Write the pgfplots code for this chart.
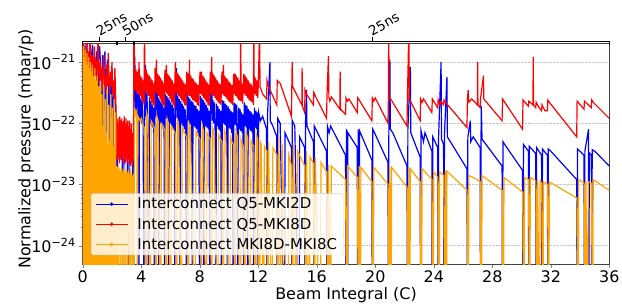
\documentclass[border=0pt]{standalone}
\usepackage{pgfplots}
\pgfplotsset{compat=1.18}
\usepackage{fontspec}
\setmainfont{DejaVu Sans}
\definecolor{mplblue}{RGB}{0,0,255}
\definecolor{mplred}{RGB}{255,0,0}
\definecolor{mplorange}{RGB}{255,165,0}
\begin{document}
\begin{tikzpicture}
\begin{axis}[
  scale only axis, width=526.6bp, height=221bp,
  ymode=log, xmin=0, xmax=36, ymin=5e-25, ymax=2.05e-21,
  xtick={0,4,...,36},
  ytick={1e-24,1e-23,1e-22,1e-21},
  yticklabels={10\textsuperscript{−24},10\textsuperscript{−23},10\textsuperscript{−22},10\textsuperscript{−21}},
  /pgf/number format/assume math mode=true,
  tick label style={font=\fontsize{16}{18}\selectfont},
  label style={font=\fontsize{16}{18}\selectfont},
  tick align=outside, major tick length=3.5bp, minor tick length=2bp,
  xtick pos=bottom, ytick pos=left,
  ymajorgrids, major grid style={densely dotted, gray!45, line width=0.5pt},
  axis line style={black!75, line width=0.6pt},
  xlabel={Beam Integral (C)}, ylabel={Normalized pressure (mbar/p)},
  xlabel style={at={(axis description cs:0.5,-0.14)}, anchor=center},
  ylabel style={at={(axis description cs:-0.1077,0.52)}, anchor=center},
  legend cell align=left,
  legend style={at={(0.0158,0.04)}, anchor=south west, font=\fontsize{15}{18}\selectfont,
    draw=gray!40, fill=white, fill opacity=0.8, text opacity=1, rounded corners=2pt,
    inner xsep=4bp, inner ysep=2bp, row sep=3.2bp, nodes={inner sep=2.2bp}},
  legend image code/.code={\draw[#1, line width=0.9pt] (0bp,0bp) -- (32bp,0bp); \fill[#1] (16bp,0bp) circle (1.1bp); \path (39bp,0bp);},
]
% ---------------- Blue: Interconnect Q5-MKI2D
\addplot[mplblue, line width=1.2pt] coordinates {
(0,1.6e-21)(0.04,1e-26)(0.08,1.9e-21)(0.14,1.1e-21)(0.18,1e-26)(0.22,1.7e-21)(0.3,2.2e-21)(0.34,1e-26)(0.38,1.4e-21)(0.46,8e-22)(0.5,1.6e-21)(0.55,1e-26)(0.6,1.3e-21)(0.68,1.9e-21)(0.77,1e-26)(0.8,1.2e-21)(0.88,6e-22)(0.95,1.5e-21)(1.02,1e-26)(1.08,1.1e-21)(1.16,1.8e-21)(1.24,7e-22)(1.3,1e-26)(1.36,1.3e-21)(1.44,8e-22)(1.52,1.5e-21)(1.58,1e-26)(1.62,7e-22)(1.7,1.1e-21)(1.76,4e-22)(1.82,1e-26)(1.86,6e-22)(1.94,3e-22)(2.0,8e-22)(2.06,1e-26)(2.1,2.5e-22)(2.18,4e-22)(2.26,1.5e-22)(2.32,1e-26)(2.38,4.5e-23)(2.46,3e-23)(2.54,5e-23)(2.62,2.6e-23)(2.7,4e-23)(2.77,1e-26)(2.82,3.5e-23)(2.9,2.6e-23)(2.98,4.5e-23)(3.06,2.3e-23)(3.12,1e-26)(3.18,4e-23)(3.26,2.8e-23)(3.34,3.5e-23)(3.42,2.4e-23)(3.48,1e-26)
(3.52,6e-22)(3.56,1.2e-21)(3.6,3e-22)(3.65,1.3e-22)(3.7,3.5e-22)(3.75,1.2e-22)(3.8,3e-22)(3.84,1e-26)(3.88,2.8e-22)(3.93,1.1e-22)(3.98,2.5e-22)(4.03,1e-22)(4.08,2.3e-22)(4.13,9e-23)(4.2,1e-26)
(4.24,4e-22)(4.3,9e-22)(4.34,1.3e-22)(4.39,3e-22)(4.44,1.2e-22)(4.52,1e-26)(4.56,2.6e-22)(4.61,1e-22)(4.66,2.3e-22)(4.71,9e-23)(4.76,2e-22)(4.81,8.5e-23)(4.86,1.8e-22)(4.9,1e-26)
(4.94,3.5e-22)(4.99,1.3e-22)(5.04,3e-22)(5.08,6e-22)(5.12,1.2e-22)(5.17,2.6e-22)(5.22,1e-26)(5.26,2.4e-22)(5.31,1e-22)(5.36,2.2e-22)(5.41,9e-23)(5.46,2e-22)(5.51,8e-23)(5.56,1.8e-22)(5.6,1e-26)
(5.64,3e-22)(5.69,1.2e-22)(5.74,2.8e-22)(5.79,1.1e-22)(5.84,2.6e-22)(5.88,1e-26)(5.92,2.4e-22)(5.97,1e-22)(6.02,2.2e-22)(6.07,9e-23)(6.12,2e-22)(6.17,8e-23)(6.22,1.8e-22)(6.27,7.5e-23)(6.3,1e-26)
(6.34,3.2e-22)(6.42,8e-22)(6.45,1.2e-22)(6.5,2.8e-22)(6.55,1.1e-22)(6.6,2.5e-22)(6.66,1e-26)(6.7,2.3e-22)(6.75,1e-22)(6.8,2.1e-22)(6.85,9e-23)(6.9,1.9e-22)(6.95,8e-23)(7.0,1.7e-22)(7.05,7e-23)(7.1,1e-26)
(7.14,3e-22)(7.19,1.1e-22)(7.24,2.7e-22)(7.29,1e-22)(7.34,2.5e-22)(7.39,9.5e-23)(7.45,2.3e-22)(7.5,1e-26)(7.54,2.2e-22)(7.59,9e-23)(7.64,2e-22)(7.69,8.5e-23)(7.74,1.9e-22)(7.79,8e-23)(7.84,1.7e-22)(7.89,7e-23)(7.94,1.6e-22)(8.0,1e-26)
(8.04,2.8e-22)(8.09,1.1e-22)(8.14,2.6e-22)(8.19,1e-22)(8.24,2.4e-22)(8.3,1e-26)(8.34,2.2e-22)(8.39,9e-23)(8.44,2e-22)(8.49,8.5e-23)(8.54,1.8e-22)(8.59,8e-23)(8.64,1.6e-22)(8.7,1e-26)
(8.74,2.6e-22)(8.82,7e-22)(8.85,1.1e-22)(8.9,2.4e-22)(8.95,1e-22)(9.0,2.2e-22)(9.05,9.5e-23)(9.1,1e-26)(9.14,2.1e-22)(9.19,9e-23)(9.24,1.9e-22)(9.29,8e-23)(9.34,1.7e-22)(9.39,7.5e-23)(9.44,1.6e-22)(9.5,1e-26)
(9.54,2.4e-22)(9.59,1e-22)(9.64,2.3e-22)(9.69,9.5e-23)(9.74,2.1e-22)(9.79,9e-23)(9.84,2e-22)(9.9,1e-26)(9.94,1.9e-22)(9.99,8.5e-23)(10.04,1.7e-22)(10.09,8e-23)(10.14,1.6e-22)(10.19,7e-23)(10.24,1.5e-22)(10.3,1e-26)
(10.34,2.2e-22)(10.39,9.5e-23)(10.44,2.1e-22)(10.49,9e-23)(10.54,2e-22)(10.62,1e-26)(10.66,1.8e-22)(10.71,8e-23)(10.76,1.7e-22)(10.81,7.5e-23)(10.86,1.5e-22)(10.91,7e-23)(10.96,1.4e-22)(11.0,1e-26)
(11.04,2.2e-22)(11.09,9e-23)(11.14,2e-22)(11.19,8.5e-23)(11.24,1.9e-22)(11.3,1e-26)(11.34,1.7e-22)(11.39,8e-23)(11.44,1.6e-22)(11.49,7.5e-23)(11.54,1.5e-22)(11.59,7e-23)(11.64,1.4e-22)(11.7,1e-26)
(11.74,1.8e-22)(11.79,8.5e-23)(11.84,1.6e-22)(11.89,8e-23)(11.94,1.5e-22)(12.0,1e-26)
(12.03,1.5e-22)(12.15,1.1e-22)(12.3,1.3e-22)(12.57,8e-23)(12.6,1e-26)(12.63,1.3e-22)(12.8,1e-21)(12.82,1.1e-22)(13.0,9e-23)(13.27,6e-23)(13.3,1e-26)(13.33,1.2e-22)(13.5,1e-22)(13.8,1e-26)(13.83,7e-23)(14.27,4e-23)(14.3,1e-26)(14.33,1.1e-22)(14.5,9e-23)(14.8,1e-26)(14.83,6e-23)(15.17,4e-23)(15.2,1e-26)(15.23,1e-22)(15.3,3.5e-22)(15.33,9e-23)(15.77,5e-23)(15.8,1e-26)(15.83,9e-23)(16.0,7.5e-23)(16.67,3.5e-23)(16.7,1e-26)(16.73,9e-23)(16.85,7e-23)(16.95,9e-23)(17.97,3e-23)(18.0,1e-26)(18.03,8e-23)(18.1,1e-26)(18.13,7e-23)(18.77,4e-23)(18.8,1e-26)(18.83,8e-23)(18.9,1e-26)(18.93,7.5e-23)(19.77,2.5e-23)(19.8,1e-26)(19.83,8e-23)(19.95,7e-23)(20.87,2.3e-23)(20.9,1e-26)(20.93,8.5e-23)(21.0,1.1e-21)(21.03,8e-23)(21.2,7e-23)(22.17,2e-23)(22.2,1e-26)(22.23,8e-23)(22.4,8.3e-22)(22.43,7e-23)(23.07,2.8e-23)(23.1,1e-26)(23.13,7.5e-23)(23.3,5e-23)(23.4,7e-23)(23.87,3.5e-23)(23.9,1e-26)(23.93,6e-23)(24.27,4e-23)(24.3,1e-26)(24.33,6e-23)(24.5,1e-21)(24.53,5.5e-23)(24.67,4.5e-23)(24.7,1e-26)(24.73,6.5e-23)(24.9,5.7e-22)(24.93,6e-23)(26.27,1.8e-23)(26.3,1e-26)(26.33,6e-23)(26.5,1.1e-22)(26.53,5e-23)(26.7,6e-23)(27.17,4e-23)(27.2,1e-26)(27.23,5.5e-23)(27.25,1.9e-22)(27.3,5.5e-23)(28.67,2e-23)(28.7,1e-26)(28.73,5e-23)(28.85,4.5e-23)(30.07,1.7e-23)(30.1,1e-26)(30.13,4.5e-23)(30.47,3.5e-23)(30.5,1e-26)(30.53,4.2e-23)(30.97,3.2e-23)(31.0,1e-26)(31.03,4e-23)(31.37,3e-23)(31.4,1e-26)(31.43,3.8e-23)(31.77,3e-23)(31.8,1e-26)(31.83,3.8e-23)(32.0,3.5e-23)(33.77,1.2e-23)(33.8,1e-26)(33.83,3.8e-23)(34.27,3e-23)(34.3,1e-26)(34.33,3.5e-23)(34.58,8e-23)(34.6,1e-26)(34.63,3.3e-23)(34.77,3e-23)(34.8,1e-26)(34.83,3.7e-23)(35.0,3.5e-23)(36,2e-23)
};
\addlegendentry{Interconnect Q5-MKI2D}
% ---------------- Red: Interconnect Q5-MKI8D
\addplot[mplred, line width=1.2pt] coordinates {
(0,8e-22)(0.05,2e-21)(0.1,1e-21)(0.15,1.6e-21)(0.2,6e-22)(0.25,4e-21)(0.3,1.2e-21)(0.35,7e-22)(0.4,1.5e-21)(0.45,9e-22)(0.5,4e-21)(0.55,1.1e-21)(0.6,6e-22)(0.65,1.3e-21)(0.7,5e-22)(0.75,1e-21)(0.8,1.8e-21)(0.85,6e-22)(0.9,1.1e-21)(0.95,4.5e-22)(1.0,9e-22)(1.05,4e-21)(1.1,7e-22)(1.15,4e-22)(1.2,1e-21)(1.25,5e-22)(1.3,8e-22)(1.35,3.5e-22)(1.4,7e-22)(1.45,1.3e-21)(1.5,4e-22)(1.55,6e-22)(1.6,3e-22)(1.65,9e-22)(1.7,4e-22)(1.75,1.4e-21)(1.8,5e-22)(1.85,3e-22)(1.9,7e-22)(1.95,4e-22)(2.0,1e-21)(2.05,3e-22)(2.1,5e-22)(2.15,2.5e-22)(2.2,8e-22)(2.25,3e-22)(2.3,1.1e-22)
(2.33,3e-23)(2.36,1.1e-22)(2.39,2.5e-23)(2.42,1.2e-22)(2.45,3e-23)(2.48,9e-23)(2.51,2.2e-23)(2.54,1.3e-22)(2.57,3e-23)(2.6,1e-22)(2.63,2.5e-23)(2.66,1.2e-22)(2.69,2.8e-23)(2.72,9e-23)(2.75,2.2e-23)(2.78,1.1e-22)(2.81,3e-23)(2.84,1.3e-22)(2.87,2.5e-23)(2.9,1e-22)(2.93,2.3e-23)(2.96,1.2e-22)(2.99,2.8e-23)(3.02,1e-22)(3.05,2.2e-23)(3.08,1.1e-22)(3.11,2.6e-23)(3.14,9e-23)(3.17,2.2e-23)(3.2,1.1e-22)(3.23,2.5e-23)(3.26,8e-23)(3.29,2e-23)(3.32,1e-22)(3.35,2.3e-23)(3.38,7e-23)(3.41,2e-23)(3.44,6e-23)(3.47,2.5e-23)
(3.5,4e-21)(3.55,8e-22)(3.6,3.5e-22)(3.65,7.5e-22)(3.7,3.2e-22)(3.75,7e-22)(3.8,3e-22)(3.85,1e-21)(3.9,2.8e-22)(3.95,6e-22)(4.0,2.5e-22)(4.05,5.5e-22)(4.1,2.2e-22)(4.15,5e-22)(4.2,2e-22)
(4.22,4e-21)(4.25,8e-22)(4.3,3.4e-22)(4.35,7.5e-22)(4.4,3e-22)(4.45,6.5e-22)(4.5,2.8e-22)(4.55,6e-22)(4.6,2.5e-22)(4.65,5.5e-22)(4.7,2.2e-22)(4.75,5e-22)(4.8,2e-22)(4.85,4.5e-22)(4.9,1.9e-22)
(4.95,8e-22)(5.0,3.2e-22)(5.04,1.1e-21)(5.08,3e-22)(5.13,6.5e-22)(5.18,2.8e-22)(5.23,6e-22)(5.28,2.5e-22)(5.33,5.5e-22)(5.38,2.2e-22)(5.43,5e-22)(5.48,2e-22)(5.53,4.5e-22)(5.58,1.8e-22)
(5.62,7.5e-22)(5.67,3.2e-22)(5.72,9e-22)(5.77,3e-22)(5.82,6.5e-22)(5.87,2.8e-22)(5.92,6e-22)(5.97,2.5e-22)(6.02,5.5e-22)(6.07,2.2e-22)(6.12,5e-22)(6.17,2e-22)(6.22,4.5e-22)(6.27,1.8e-22)
(6.32,7.5e-22)(6.34,1e-21)(6.37,3.2e-22)(6.42,7e-22)(6.47,3e-22)(6.52,6.5e-22)(6.57,2.8e-22)(6.62,6e-22)(6.67,2.6e-22)(6.72,5.5e-22)(6.77,2.4e-22)(6.82,5e-22)(6.87,2.2e-22)(6.92,4.6e-22)(6.97,2e-22)(7.02,4.3e-22)(7.07,1.9e-22)
(7.12,7e-22)(7.17,3e-22)(7.22,6.5e-22)(7.27,2.8e-22)(7.3,1.1e-21)(7.33,2.8e-22)(7.38,6e-22)(7.43,2.6e-22)(7.48,5.5e-22)(7.53,2.4e-22)(7.58,5.2e-22)(7.63,2.3e-22)(7.68,4.8e-22)(7.73,2.2e-22)(7.78,4.5e-22)(7.83,2e-22)(7.88,4.2e-22)(7.93,1.9e-22)(7.98,4e-22)
(8.02,7e-22)(8.07,3e-22)(8.12,7e-22)(8.17,2.8e-22)(8.22,6e-22)(8.27,2.6e-22)(8.32,5.5e-22)(8.37,2.4e-22)(8.42,5e-22)(8.47,2.2e-22)(8.52,4.6e-22)(8.57,2e-22)(8.62,4.3e-22)(8.67,1.9e-22)
(8.72,7e-22)(8.77,3e-22)(8.82,1.2e-21)(8.85,3e-22)(8.9,6.5e-22)(8.95,2.8e-22)(9.0,6e-22)(9.05,2.6e-22)(9.1,5.5e-22)(9.15,2.4e-22)(9.2,5e-22)(9.25,2.2e-22)(9.3,4.6e-22)(9.35,2.1e-22)(9.4,4.3e-22)(9.45,2e-22)
(9.52,7e-22)(9.57,3e-22)(9.62,9e-22)(9.66,2.8e-22)(9.71,6e-22)(9.76,2.7e-22)(9.81,5.5e-22)(9.86,2.5e-22)(9.91,5.2e-22)(9.96,2.3e-22)(10.01,4.8e-22)(10.06,2.2e-22)(10.11,4.5e-22)(10.16,2.1e-22)(10.21,4.2e-22)(10.26,2e-22)
(10.32,6.5e-22)(10.37,3e-22)(10.42,6.5e-22)(10.47,2.8e-22)(10.52,6e-22)(10.57,2.6e-22)(10.62,5.5e-22)(10.67,2.4e-22)(10.72,5e-22)(10.77,2.3e-22)(10.8,4e-21)(10.83,2.3e-22)(10.88,4.5e-22)(10.93,2.1e-22)(10.98,4.2e-22)
(11.02,6.5e-22)(11.07,3e-22)(11.12,6e-22)(11.17,2.8e-22)(11.22,5.5e-22)(11.27,2.6e-22)(11.32,5e-22)(11.37,2.4e-22)(11.42,4.6e-22)(11.47,2.3e-22)(11.52,4.3e-22)(11.57,2.2e-22)(11.62,4e-22)(11.67,2e-22)
(11.7,4e-21)(11.72,6e-22)(11.77,3e-22)(11.82,5.5e-22)(11.87,2.8e-22)(11.92,5e-22)(11.97,2.6e-22)
(12.0,4e-22)(12.1,4e-21)(12.12,4e-22)(12.3,3e-22)(12.57,2.5e-22)(12.6,5e-22)(12.7,4e-22)(13.27,2e-22)(13.3,5e-22)(13.5,4.5e-22)(14.27,1.3e-22)(14.3,4.5e-22)(14.32,1e-21)(14.35,4e-22)(14.98,2e-22)(15.0,8e-22)(15.02,1.9e-22)(15.17,1.5e-22)(15.2,3.5e-22)(15.3,3e-22)(15.77,2e-22)(15.8,3.2e-22)(15.9,2.8e-22)(16.67,1.2e-22)(16.7,2.8e-22)(16.8,1.25e-21)(16.83,2.7e-22)(16.9,2.3e-22)(17.0,2.7e-22)(17.58,1.7e-22)(17.6,7e-22)(17.62,1.7e-22)(17.97,1.4e-22)(18.0,2.6e-22)(18.1,2.3e-22)(18.2,2.5e-22)(18.77,1.5e-22)(18.8,2.6e-22)(18.9,2.4e-22)(19.77,1.1e-22)(19.8,2.6e-22)(19.9,2.3e-22)(20.0,2.6e-22)(20.87,1e-22)(20.9,2.7e-22)(20.92,4e-21)(20.95,2.6e-22)(21.1,2.4e-22)(22.17,9e-23)(22.2,2.6e-22)(22.3,4e-21)(22.33,2.5e-22)(23.07,1.1e-22)(23.1,2.5e-22)(23.2,2.2e-22)(23.3,2.5e-22)(23.87,1.5e-22)(23.9,2.5e-22)(24.27,1.8e-22)(24.3,2.4e-22)(24.4,2e-22)(24.5,2.3e-22)(24.67,2e-22)(24.7,2.4e-22)(24.8,2.2e-22)(26.27,8.5e-23)(26.3,2.4e-22)(26.35,3.5e-22)(26.4,2.2e-22)(26.6,2.5e-22)(26.98,2e-22)(27.0,1e-21)(27.02,2e-22)(27.17,1.8e-22)(27.2,2.6e-22)(27.4,6e-22)(27.42,2.5e-22)(28.67,1.1e-22)(28.7,2.5e-22)(28.8,2.3e-22)(30.07,8e-23)(30.1,2.4e-22)(30.47,1.9e-22)(30.5,2.3e-22)(30.78,2e-22)(30.8,1.2e-21)(30.82,2e-22)(30.97,1.8e-22)(31.0,2.2e-22)(31.2,1.8e-22)(31.37,1.6e-22)(31.4,2e-22)(31.6,1.6e-22)(31.77,1.6e-22)(31.8,2.4e-22)(31.9,2.2e-22)(33.77,6e-23)(33.8,2.3e-22)(34.27,1.7e-22)(34.3,2.3e-22)(34.77,1.8e-22)(34.8,2.4e-22)(34.9,2.2e-22)(36,1.2e-22)
};
\addlegendentry{Interconnect Q5-MKI8D}
% ---------------- Orange: Interconnect MKI8D-MKI8C
\addplot[mplorange, line width=1.2pt] coordinates {
(0,1.5e-21)(0.03,1e-26)(0.06,1.8e-21)(0.09,1e-26)(0.12,1.2e-21)(0.15,1e-26)(0.18,1.6e-21)(0.21,1e-26)(0.24,1e-21)(0.27,1e-26)(0.3,1.4e-21)(0.33,1e-26)(0.36,9e-22)(0.39,1e-26)(0.42,1.2e-21)(0.45,1e-26)(0.48,8e-22)(0.51,1e-26)(0.54,1e-21)(0.57,1e-26)(0.6,7e-22)(0.63,1e-26)(0.66,9e-22)(0.7,1e-26)(0.74,6e-22)(0.78,1e-26)(0.82,8e-22)(0.86,1e-26)(0.9,5e-22)(0.95,1e-26)(1.0,6e-22)(1.05,1e-26)(1.1,4e-22)(1.15,1e-26)(1.2,5e-22)(1.25,1e-26)(1.3,3e-22)(1.36,1e-26)(1.42,4e-22)(1.48,1e-26)(1.54,2.5e-22)(1.6,1e-26)(1.66,3.5e-22)(1.72,1e-26)(1.78,2e-22)(1.84,1e-26)(1.9,3e-22)(1.96,1e-26)(2.02,1.8e-22)(2.08,1e-26)(2.14,2.5e-22)(2.2,1e-26)(2.26,1.5e-22)(2.3,1e-26)
(2.34,2e-23)(2.4,1.6e-23)(2.44,1e-26)(2.48,1.8e-23)(2.56,1.5e-23)(2.6,1e-26)(2.64,1.9e-23)(2.72,1.5e-23)(2.76,1e-26)(2.8,1.8e-23)(2.88,1.4e-23)(2.92,1e-26)(2.96,1.7e-23)(3.04,1.4e-23)(3.08,1e-26)(3.12,1.7e-23)(3.2,1.3e-23)(3.24,1e-26)(3.28,1.6e-23)(3.36,1.3e-23)(3.4,1e-26)(3.46,1.5e-23)(3.5,1e-26)
(3.54,1.8e-22)(3.62,1.4e-22)(3.7,1.6e-22)(3.74,1e-26)(3.78,1.3e-22)(3.92,1.1e-22)(4.02,1.2e-22)(4.12,9e-23)(4.22,8.5e-23)(4.33,1e-26)(4.37,1.5e-22)(4.46,1.2e-22)(4.64,1e-26)(4.68,1.1e-22)(4.76,1e-22)(4.84,9e-23)(4.92,8e-23)(5.03,1e-26)(5.07,1.3e-22)(5.16,1.1e-22)(5.34,1e-26)(5.38,1e-22)(5.5,9e-23)(5.62,7.5e-23)(5.73,1e-26)(5.77,1.2e-22)(5.86,1e-22)(6.02,1e-26)(6.06,9e-23)(6.18,8e-23)(6.32,7e-23)(6.43,1e-26)(6.47,1.1e-22)(6.56,9e-23)(6.76,1e-26)(6.8,8.5e-23)(6.96,7e-23)(7.1,6e-23)(7.23,1e-26)(7.27,1e-22)(7.36,8.5e-23)(7.7,1e-26)(7.74,7.5e-23)(7.9,6e-23)(8.02,5.5e-23)(8.13,1e-26)(8.17,9e-23)(8.26,7.5e-23)(8.46,1e-26)(8.5,7e-23)(8.62,6e-23)(8.72,5.5e-23)(8.83,1e-26)(8.87,8.5e-23)(8.98,7e-23)(9.24,1e-26)(9.28,6.5e-23)(9.4,5.5e-23)(9.52,5e-23)(9.63,1e-26)(9.67,8e-23)(9.78,6.5e-23)(10.06,1e-26)(10.1,6e-23)(10.2,5e-23)(10.3,4.5e-23)(10.43,1e-26)(10.47,7.5e-23)(10.58,6e-23)(10.78,1e-26)(10.82,5.5e-23)(10.92,4.5e-23)(11.0,4.2e-23)(11.13,1e-26)(11.17,7e-23)(11.28,5.8e-23)(11.46,1e-26)(11.5,5.2e-23)(11.6,4.5e-23)(11.7,4.2e-23)(11.83,1e-26)(11.87,6.5e-23)(11.96,5.5e-23)(12.1,1e-26)
(12.13,5e-23)(12.2,4.5e-23)(12.38,1e-26)(12.42,4.2e-23)(12.58,3.5e-23)(12.66,1e-26)(12.7,5e-23)(12.96,1e-26)(13.0,4e-23)(13.28,3e-23)(13.36,1e-26)(13.4,6e-23)(13.6,1e-26)(13.64,4.5e-23)(14.05,1e-26)(14.09,3e-23)(14.28,2e-23)(14.36,1e-26)(14.4,4.5e-23)(14.65,1e-26)(14.69,3.5e-23)(15.18,2e-23)(15.26,1e-26)(15.3,3.5e-23)(15.5,1e-26)(15.54,2.8e-23)(15.78,2.2e-23)(15.86,1e-26)(15.9,2.8e-23)(16.25,1e-26)(16.29,2.3e-23)(16.68,1.6e-23)(16.76,1e-26)(16.8,2.1e-23)(16.95,1e-26)(16.99,2e-23)(17.97,1.2e-23)(18.06,1e-26)(18.1,2e-23)(18.78,1.3e-23)(18.86,1e-26)(18.9,2e-23)(18.98,1e-26)(19.02,1.9e-23)(19.78,1.1e-23)(19.86,1e-26)(19.9,1.9e-23)(20.88,1e-23)(20.96,1e-26)(21.0,2e-23)(21.08,1e-26)(21.12,1.9e-23)(22.18,9e-24)(22.26,1e-26)(22.3,1.9e-23)(22.36,1e-26)(22.4,1.8e-23)(23.08,1.1e-23)(23.16,1e-26)(23.2,1.8e-23)(23.88,1.2e-23)(23.96,1e-26)(24.0,1.6e-23)(24.28,1.3e-23)(24.36,1e-26)(24.4,1.6e-23)(24.68,1.4e-23)(24.76,1e-26)(24.8,1.7e-23)(24.86,1e-26)(24.9,1.65e-23)(26.28,8e-24)(26.36,1e-26)(26.4,1.4e-23)(26.7,1.3e-23)(27.18,1.1e-23)(27.26,1e-26)(27.3,1.4e-23)(28.68,8e-24)(28.76,1e-26)(28.8,1.3e-23)(30.08,7.5e-24)(30.16,1e-26)(30.2,1.3e-23)(30.48,1.2e-23)(30.56,1e-26)(30.6,1.3e-23)(30.98,1.15e-23)(31.06,1e-26)(31.1,1.2e-23)(31.23,1e-26)(31.27,1.15e-23)(31.38,1.05e-23)(31.46,1e-26)(31.5,1.1e-23)(31.78,1e-23)(31.86,1e-26)(31.9,1.1e-23)(33.78,6e-24)(33.86,1e-26)(33.9,1.2e-23)(34.28,1.05e-23)(34.36,1e-26)(34.4,1.15e-23)(34.52,1e-26)(34.56,1.1e-23)(34.78,1.05e-23)(34.86,1e-26)(34.9,1.2e-23)(36,8e-24)
};
\addlegendentry{Interconnect MKI8D-MKI8C}
\coordinate (p0) at (axis cs:0,2.05e-21);
\coordinate (p1) at (axis cs:2.33,2.05e-21);
\coordinate (p2) at (axis cs:2.40,2.05e-21);
\coordinate (p3) at (axis cs:3.48,2.05e-21);
\coordinate (p4) at (axis cs:3.56,2.05e-21);
\coordinate (p5) at (axis cs:36,2.05e-21);
\coordinate (m1) at (axis cs:1.165,2.05e-21);
\coordinate (m2) at (axis cs:2.94,2.05e-21);
\coordinate (m3) at (axis cs:19.78,2.05e-21);
\end{axis}
\draw[line width=1.1pt] ([yshift=-2bp]p0) -- ([yshift=1.4bp]p0) -- ([yshift=1.4bp]p1) -- ([yshift=-2bp]p1);
\draw[line width=1.1pt] ([yshift=-2bp]p2) -- ([yshift=1.4bp]p2) -- ([yshift=1.4bp]p3) -- ([yshift=-2bp]p3);
\draw[line width=1.1pt] ([yshift=-2bp]p4) -- ([yshift=1.4bp]p4) -- ([yshift=1.4bp]p5) -- ([yshift=-2bp]p5);
\draw[line width=0.8pt] ([yshift=1.4bp]m1) -- ([yshift=5.5bp]m1);
\draw[line width=0.8pt] ([yshift=1.4bp]m2) -- ([yshift=5.5bp]m2);
\draw[line width=0.8pt] ([yshift=1.4bp]m3) -- ([yshift=5.5bp]m3);
\node[rotate=30, anchor=south west, inner sep=0.5bp, font=\fontsize{13.5}{15}\selectfont] at ([yshift=5.5bp]m1) {25ns};
\node[rotate=30, anchor=south west, inner sep=0.5bp, font=\fontsize{13.5}{15}\selectfont] at ([yshift=5.5bp]m2) {50ns};
\node[rotate=30, anchor=south west, inner sep=0.5bp, font=\fontsize{13.5}{15}\selectfont] at ([yshift=5.5bp]m3) {25ns};
\pgfresetboundingbox
\path ([shift={(-82.7bp,-40bp)}]current axis.south west) rectangle ([shift={(12.7bp,43bp)}]current axis.north east);
\end{tikzpicture}
\end{document}
